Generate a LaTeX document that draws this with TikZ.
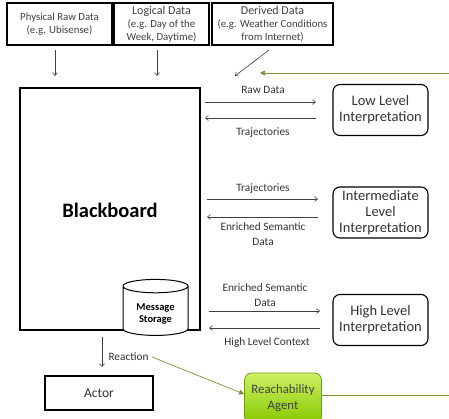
\documentclass[tikz,border=0pt]{standalone}
\usepackage{fontspec}
\setmainfont{Carlito}
\usetikzlibrary{shapes.geometric,arrows.meta}
\definecolor{lgreen}{RGB}{119,147,60}
\definecolor{agtop}{RGB}{205,240,100}
\definecolor{agbot}{RGB}{135,200,0}
\definecolor{agdraw}{RGB}{110,160,20}
\begin{document}
\begin{tikzpicture}[x=1pt,y=-1pt,
  srcbox/.style={draw,line width=1.3pt,minimum width=#1,minimum height=42pt,align=center,font=\fontsize{10.8}{13}\selectfont,inner sep=1pt,text=black!75},
  interp/.style={draw,rounded corners=7pt,line width=1.1pt,minimum width=95pt,minimum height=51pt,align=center,font=\fontsize{14.5}{16}\selectfont,text=black!80},
  lbl/.style={font=\fontsize{11.3}{14.5}\selectfont,align=center,text=black!80},
  arr/.style={-{Straight Barb[length=3pt,width=5pt]},line width=0.6pt,black!75},
  garr/.style={-{Triangle[length=5pt,width=5pt]},line width=0.7pt,lgreen}]
\useasboundingbox (0,0) rectangle (449,418);
% source boxes
\node[srcbox=105pt] (phys) at (59.5,24) {Physical Raw Data\\(e.g. Ubisense)};
\node[srcbox=95pt] (log) at (161.5,24) {{\fontsize{12}{13}\selectfont Logical Data}\\(e.g. Day of the\\Week, Daytime)};
\node[srcbox=121pt] (der) at (272.5,24) {{\fontsize{12}{13}\selectfont Derived Data}\\(e.g. Weather Conditions\\from Internet)};
\coordinate (p1) at (55,50); \coordinate (p2) at (55,76);
\coordinate (l1) at (157,50); \coordinate (l2) at (157,76);
\coordinate (d1) at (269,50); \coordinate (d2) at (235,76);
\coordinate (g1) at (449,73); \coordinate (g2) at (260,73);
\draw[arr] (p1) -- (p2);
\draw[arr] (l1) -- (l2);
\draw[arr] (d1) -- (d2);
\draw[garr] (g1) -- (g2);
% blackboard
\node[draw,line width=1.3pt,minimum width=180pt,minimum height=242pt] (bb) at (110,209) {};
\node[font=\fontsize{20.5}{22}\selectfont\bfseries] (bbt) at (110,210) {Blackboard};
\node[draw,cylinder,shape border rotate=90,aspect=0.35,line width=1pt,fill=white,minimum width=65pt,minimum height=56pt,align=center,font=\fontsize{10.5}{12.5}\selectfont\bfseries,inner sep=0pt] (ms) at (155.5,311) {\\Message\\Storage};
% interpretations
\node[interp] (low) at (380.5,110) {Low Level\\Interpretation};
\node[interp] (mid) at (380.5,212.5) {Intermediate\\Level\\Interpretation};
\node[interp] (high) at (380.5,320) {High Level\\Interpretation};
\coordinate (a1s) at (205,102); \coordinate (a1e) at (316,102);
\coordinate (a2s) at (316,118); \coordinate (a2e) at (205,118);
\coordinate (b1s) at (207,199); \coordinate (b1e) at (318,199);
\coordinate (b2s) at (318,217); \coordinate (b2e) at (207,217);
\coordinate (c1s) at (209,311); \coordinate (c1e) at (320,311);
\coordinate (c2s) at (320,328); \coordinate (c2e) at (209,328);
\draw[arr] (a1s) -- (a1e);
\draw[arr] (a2s) -- (a2e);
\draw[arr] (b1s) -- (b1e);
\draw[arr] (b2s) -- (b2e);
\draw[arr] (c1s) -- (c1e);
\draw[arr] (c2s) -- (c2e);
\node[lbl] (l1t) at (263,90) {Raw Data};
\node[lbl] (l2t) at (263,133) {Trajectories};
\node[lbl] (l3t) at (263,189) {Trajectories};
\node[lbl] (l4t) at (263,234) {Enriched Semantic\\Data};
\node[lbl] (l5t) at (265,295) {Enriched Semantic\\Data};
\node[lbl] (l6t) at (267,343) {High Level Context};
% reaction / actor
\coordinate (r1) at (102,337); \coordinate (r2) at (102,367);
\draw[arr] (r1) -- (r2);
\node[lbl,anchor=west] (react) at (105,357) {Reaction};
\node[draw,line width=1.3pt,minimum width=108pt,minimum height=34pt,font=\fontsize{13.5}{15}\selectfont,text=black!80] (actor) at (99,393) {Actor};
\node[draw=agdraw,top color=agtop,bottom color=agbot,rounded corners=7pt,line width=0.8pt,minimum width=77pt,minimum height=50pt,align=center,font=\fontsize{12.8}{16}\selectfont,text=black!75] (agent) at (283,398) {Reachability\\Agent};
\coordinate (ge) at (449,395);
\draw[lgreen,line width=0.7pt] (agent.east |- ge) -- (ge);
\draw[garr] (react.east) -- (agent.west |- 0,394);
\end{tikzpicture}
\end{document}
